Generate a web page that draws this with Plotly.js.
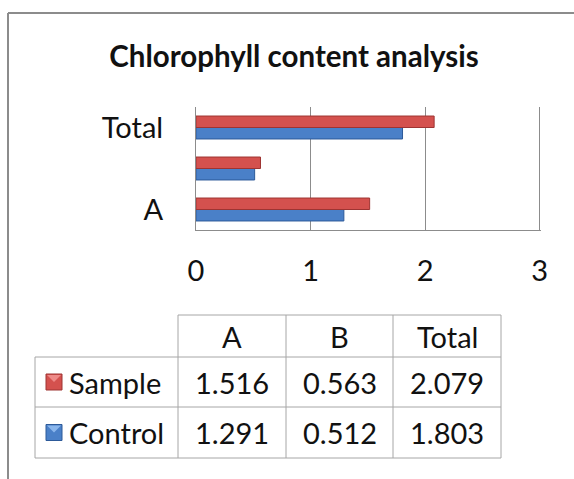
<!DOCTYPE html>
<html>
<head>
<meta charset="utf-8">
<script src="https://cdn.plot.ly/plotly-3.0.1.min.js"></script>
<style>
  html, body { margin: 0; padding: 0; background: #fff; }
  #chart { width: 574px; height: 479px; }
</style>
</head>
<body>
<div id="chart"></div>
<script>
// ---- data ----
const categories = ['A', 'B', 'Total'];
const shownCategoryTicks = ['A', 'Total'];
const sampleValues = [1.516, 0.563, 2.079];
const controlValues = [1.291, 0.512, 1.803];
const seriesNames = ['Sample', 'Control'];
const xTickValues = [0, 1, 2, 3];

// ---- style ----
const W = 574, H = 479;
const M = { l: 196, r: 33, t: 107, b: 249 };
const PW = W - M.l - M.r, PH = H - M.t - M.b;
const FONT = 'Lato, "Open Sans", sans-serif';
const RED = '#D4514E', RED_DARK = '#9E3432', RED_LIGHT = '#EE8A88';
const BLUE = '#4A80C8', BLUE_DARK = '#2D5A99', BLUE_LIGHT = '#8AB6EC';
const GRID = '#8C8C8C';
const TABLE_LINE = '#A6A6A6';
const TXT = 29;

// pixel -> paper (plot-area relative) coordinates
const px = x => (x - M.l) / PW;
const py = y => (H - M.b - y) / PH;

const traces = [
  {
    type: 'bar', orientation: 'h', name: seriesNames[1],
    y: categories, x: controlValues,
    marker: { color: BLUE, line: { color: BLUE_DARK, width: 1 } },
    hoverinfo: 'x'
  },
  {
    type: 'bar', orientation: 'h', name: seriesNames[0],
    y: categories, x: sampleValues,
    marker: { color: RED, line: { color: RED_DARK, width: 1 } },
    hoverinfo: 'x'
  }
];

// ---- data table (shapes + annotations) ----
const colEdges = [35, 178, 286, 393, 501];
const rowEdges = [315, 357, 407, 458];
const shapes = [];
const annotations = [];

function line(x0, y0, x1, y1, color, width) {
  shapes.push({ type: 'line', xref: 'paper', yref: 'paper',
    x0: px(x0), y0: py(y0), x1: px(x1), y1: py(y1),
    line: { color: color, width: width } });
}

// chart frame
line(8, 13, 8, 480, '#8C8C8C', 2);
line(8, 13, 575, 13, '#8C8C8C', 2);

// horizontal table lines
line(colEdges[1], rowEdges[0], colEdges[4], rowEdges[0], TABLE_LINE, 1);
for (let r = 1; r < rowEdges.length; r++) {
  line(colEdges[0], rowEdges[r], colEdges[4], rowEdges[r], TABLE_LINE, 1);
}
// vertical table lines
line(colEdges[0], rowEdges[1], colEdges[0], rowEdges[3], TABLE_LINE, 1);
for (let c = 1; c < colEdges.length; c++) {
  line(colEdges[c], rowEdges[0], colEdges[c], rowEdges[3], TABLE_LINE, 1);
}

const cellFont = { family: FONT, size: TXT, color: '#111' };
// header
categories.forEach((cat, i) => {
  annotations.push({ xref: 'paper', yref: 'paper',
    x: px((colEdges[i + 1] + colEdges[i + 2]) / 2), y: py((rowEdges[0] + rowEdges[1]) / 2),
    text: cat, showarrow: false, font: cellFont, xanchor: 'center', yanchor: 'middle' });
});
// rows
const rows = [
  { name: seriesNames[0], values: sampleValues, fill: RED, dark: RED_DARK, light: RED_LIGHT },
  { name: seriesNames[1], values: controlValues, fill: BLUE, dark: BLUE_DARK, light: BLUE_LIGHT }
];
rows.forEach((row, r) => {
  const yc = (rowEdges[r + 1] + rowEdges[r + 2]) / 2;
  // legend key
  shapes.push({ type: 'rect', xref: 'paper', yref: 'paper',
    x0: px(46), x1: px(62), y0: py(yc - 8), y1: py(yc + 8),
    fillcolor: row.fill, line: { color: row.dark, width: 1 } });
  shapes.push({ type: 'path', xref: 'paper', yref: 'paper',
    path: `M ${px(47)} ${py(yc - 7)} L ${px(61)} ${py(yc - 7)} L ${px(54)} ${py(yc)} Z`,
    fillcolor: row.light, line: { width: 0 } });
  annotations.push({ xref: 'paper', yref: 'paper',
    x: px(67), y: py(yc), text: row.name, showarrow: false,
    font: cellFont, xanchor: 'left', yanchor: 'middle' });
  row.values.forEach((v, i) => {
    annotations.push({ xref: 'paper', yref: 'paper',
      x: px((colEdges[i + 1] + colEdges[i + 2]) / 2), y: py(yc),
      text: v.toFixed(3), showarrow: false, font: cellFont,
      xanchor: 'center', yanchor: 'middle' });
  });
});

const layout = {
  width: W, height: H,
  margin: { l: M.l, r: M.r, t: M.t, b: M.b, pad: 0 },
  paper_bgcolor: '#fff', plot_bgcolor: '#fff',
  showlegend: false,
  barmode: 'group',
  bargap: 0.44,
  bargroupgap: 0,
  title: {
    text: '<b>Chlorophyll content analysis</b>',
    font: { family: FONT, size: 29.5, color: '#111' },
    x: 294 / W, xanchor: 'center', y: 1 - 57 / H, yanchor: 'middle'
  },
  xaxis: {
    range: [0, 3.012], tickmode: 'array', tickvals: xTickValues,
    showgrid: true, gridcolor: GRID, gridwidth: 1,
    zeroline: false, showline: true, linecolor: GRID, linewidth: 1,
    ticks: '', ticklabelstandoff: 15,
    tickfont: { family: FONT, size: TXT, color: '#111' },
    fixedrange: true
  },
  yaxis: {
    type: 'category', categoryorder: 'array', categoryarray: categories,
    tickmode: 'array', tickvals: shownCategoryTicks,
    showgrid: false, zeroline: false, showline: true, linecolor: GRID, linewidth: 1,
    ticks: '', ticklabelstandoff: 26,
    tickfont: { family: FONT, size: TXT, color: '#111' },
    fixedrange: true
  },
  shapes: shapes,
  annotations: annotations
};

Plotly.newPlot('chart', traces, layout, { displayModeBar: false, staticPlot: true });
</script>
</body>
</html>
